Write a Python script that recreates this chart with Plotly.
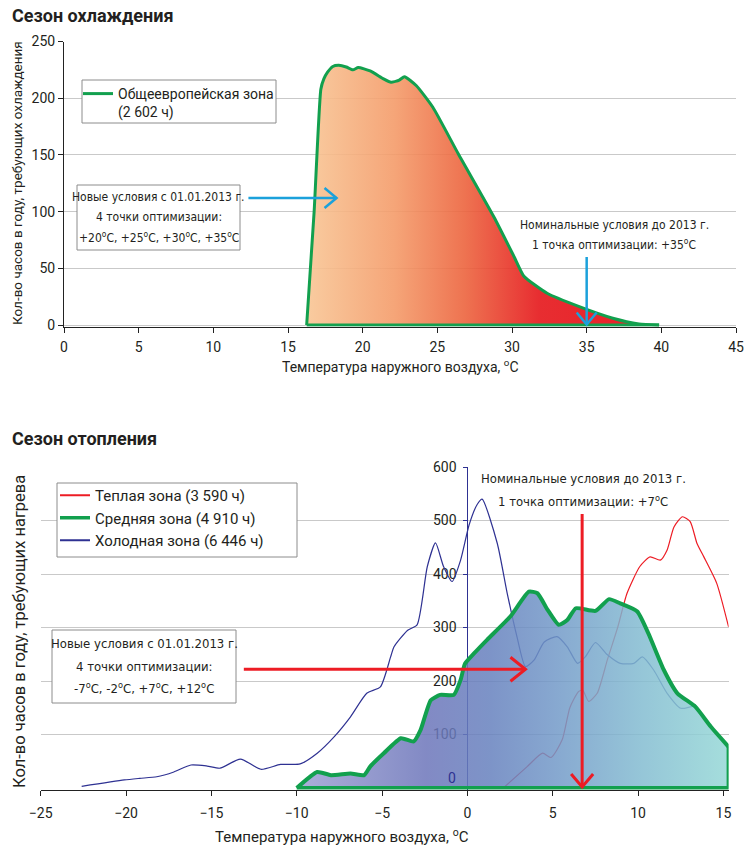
import plotly.graph_objects as go

# ---------------- data ----------------
# Cooling season, pan-European zone (hours per year vs outdoor temperature)
cool_temp = [16.25, 16.75, 17.2, 17.4, 17.65, 18.0, 18.4, 18.9, 19.35, 19.7, 20.5, 21.4, 21.9,
             22.45, 22.8, 23.6, 24.7, 26.4, 28.8, 30.15, 30.8, 32.35, 34.55, 36.75, 38.5, 39.85]
cool_hours = [0, 100, 208, 217, 223, 228, 229, 227.5, 225, 227, 224, 217, 214,
              216, 219, 211, 192, 151, 95, 60, 43, 28, 16, 6, 1, 0]
cool_name = "Общеевропейская зона<br>(2 602 ч)"

# Heating season
warm_temp = [2.1, 3.5, 4.4, 4.9, 5.55, 6.0, 6.5, 6.75, 7.1, 7.6, 8.2, 8.8, 9.35, 10.1,
             10.7, 11.3, 11.7, 12.1, 12.6, 13.05, 13.45, 13.85, 14.6, 15.3]
warm_hours = [0, 40, 65, 57, 90, 150, 180, 183, 162, 177, 240, 300, 364, 414,
              432, 426, 445, 488, 507, 498, 457, 432, 383, 301]
warm_name = "Теплая зона (3 590 ч)"

mid_temp = [-10.0, -8.8, -8.0, -6.85, -6.05, -5.7, -4.9, -3.9, -3.15, -2.75, -2.15, -1.6,
            -0.8, -0.4, -0.15, 0.4, 1.15, 2.5, 3.6, 4.1, 4.7, 5.35, 5.85, 6.35, 7.5, 8.3,
            8.95, 9.95, 10.6, 11.5, 12.3, 13.35, 14.25, 15.3]
mid_hours = [0, 30, 24, 27, 24, 40, 65, 93, 87, 108, 164, 174,
             174, 202, 232, 252, 277, 320, 367, 364, 333, 305, 314, 336, 331, 353,
             345, 330, 289, 221, 177, 152, 115, 77]
mid_name = "Средняя зона (4 910 ч)"

cold_temp = [-22.6, -20.1, -19.2, -18.2, -17.2, -16.2, -15.25, -14.5, -13.3, -12.1, -10.95,
             -9.8, -8.8, -7.8, -6.85, -5.9, -5.1, -4.5, -4.3, -3.5, -2.95, -2.35, -1.87,
             -1.4, -0.9, -0.4, 0.1, 0.57, 0.86, 1.75, 2.33, 2.9, 3.4, 3.9, 4.5, 5.25, 5.85,
             6.45, 6.9, 7.5, 8.2, 8.95, 9.75, 10.25, 10.9, 11.7, 12.5, 13.4]
cold_hours = [3, 15, 18, 21, 30, 43, 41, 37, 54, 35, 44,
              45, 65, 96, 133, 177, 189, 245, 264, 295, 305, 414, 458,
              414, 386, 426, 492, 530, 540, 457, 364, 283, 227, 239, 273, 283, 264,
              233, 245, 272, 249, 233, 233, 245, 221, 177, 149, 155]
cold_name = "Холодная зона (6 446 ч)"

cool_xticks = list(range(0, 50, 5))
cool_yticks = list(range(0, 300, 50))
heat_xticks = list(range(-25, 20, 5))
heat_yticks = list(range(100, 700, 100))

# ---------------- styling / layout helpers ----------------
W, H = 747, 850
FONT = "Roboto, 'Noto Sans', sans-serif"
NARROW = "'Liberation Sans Narrow', 'DejaVu Sans Condensed', Roboto, sans-serif"
TXT = "#231f20"
GREEN = "#12a04e"
BLUE = "#1ba1db"
RED = "#ed1c24"
NAVY = "#2e3192"
GRID = "#c9c9c9"
BOX = "#8c8c8c"


def px(x):
    return x / W


def py(y):
    return 1 - y / H


top_xdom = [px(64), px(736)]
top_ydom = [py(326.7), py(41.5)]
bot_xdom = [px(40.7), px(728.6)]
bot_ydom = [py(789.6), py(467)]
top_xr = [0, 45]
top_yr = [-1.5, 250]
bot_xr = [-25, 15.3]
bot_yr = [-3, 600]
y2_pos = bot_xdom[0] + (0 - bot_xr[0]) / (bot_xr[1] - bot_xr[0]) * (bot_xdom[1] - bot_xdom[0])

fig = go.Figure()

# ---- cooling season ----
fig.add_trace(go.Scatter(
    x=cool_temp, y=cool_hours, mode="lines", fill="tozeroy",
    line=dict(color=GREEN, width=3, shape="spline", smoothing=0.5),
    fillgradient=dict(type="horizontal", colorscale=[
        [0.0, "rgba(248,198,149,0.9)"],
        [0.25, "rgba(244,155,105,0.9)"],
        [0.45, "rgba(236,99,61,0.9)"],
        [0.66, "rgba(229,22,26,0.9)"],
        [1.0, "rgba(230,5,16,0.9)"]]),
    showlegend=False, hoverinfo="skip", xaxis="x", yaxis="y"))
# green base edge of the area
fig.add_trace(go.Scatter(
    x=[cool_temp[0], cool_temp[-1]], y=[0, 0], mode="lines",
    line=dict(color=GREEN, width=3), showlegend=False, hoverinfo="skip",
    xaxis="x", yaxis="y"))
fig.add_trace(go.Scatter(x=[None], y=[None], mode="lines", name=cool_name,
                         line=dict(color=GREEN, width=3), legend="legend",
                         xaxis="x", yaxis="y"))

# ---- heating season ----
fig.add_trace(go.Scatter(
    x=warm_temp, y=warm_hours, mode="lines",
    line=dict(color=RED, width=1.2, shape="spline", smoothing=0.6),
    showlegend=False, hoverinfo="skip", xaxis="x2", yaxis="y2"))
fig.add_trace(go.Scatter(
    x=cold_temp, y=cold_hours, mode="lines",
    line=dict(color=NAVY, width=1.2, shape="spline", smoothing=0.6),
    showlegend=False, hoverinfo="skip", xaxis="x2", yaxis="y2"))
fig.add_trace(go.Scatter(
    x=mid_temp, y=mid_hours, mode="lines", fill="tozeroy",
    line=dict(color=GREEN, width=4, shape="spline", smoothing=0.5),
    fillgradient=dict(type="horizontal", colorscale=[
        [0.0, "rgba(157,161,211,0.85)"],
        [0.3, "rgba(108,117,186,0.85)"],
        [0.45, "rgba(102,129,190,0.85)"],
        [0.6, "rgba(114,153,200,0.85)"],
        [0.8, "rgba(131,188,209,0.85)"],
        [1.0, "rgba(149,216,214,0.85)"]]),
    showlegend=False, hoverinfo="skip", xaxis="x2", yaxis="y2"))
# right edge and base of the area
fig.add_trace(go.Scatter(
    x=[mid_temp[-1], mid_temp[-1], mid_temp[0]], y=[mid_hours[-1], 0, 0], mode="lines",
    line=dict(color=GREEN, width=4), showlegend=False, hoverinfo="skip",
    xaxis="x2", yaxis="y2"))

for nm, col, w in [(warm_name, RED, 2), (mid_name, GREEN, 3.5), (cold_name, NAVY, 2)]:
    fig.add_trace(go.Scatter(x=[None], y=[None], mode="lines", name=nm,
                             line=dict(color=col, width=w), legend="legend2",
                             xaxis="x2", yaxis="y2"))

# ---------------- shapes (boxes, arrows) ----------------
shapes = []


def box(x0, y0, x1, y1):
    shapes.append(dict(type="rect", xref="paper", yref="paper", x0=px(x0), x1=px(x1),
                       y0=py(y1), y1=py(y0), line=dict(color=BOX, width=1),
                       fillcolor="white", layer="above"))


box(82, 80, 276, 123)     # top legend frame
box(77, 185, 240, 250)    # top "new conditions" frame
box(57, 483, 297, 557)    # bottom legend frame
box(52, 630, 236, 703)    # bottom "new conditions" frame


def arrow(xr, yr, x0, y0, x1, y1, head, color, width):
    shapes.append(dict(type="line", xref=xr, yref=yr, x0=x0, y0=y0, x1=x1, y1=y1,
                       line=dict(color=color, width=width)))
    shapes.append(dict(type="path", xref=xr, yref=yr, xsizemode="pixel", ysizemode="pixel",
                       xanchor=x1, yanchor=y1, path=head,
                       line=dict(color=color, width=width)))


arrow("x", "y", 12.35, 112, 18.25, 112, "M -12,10 L 0,0 L -12,-10", BLUE, 2.5)
arrow("x", "y", 35, 60, 35, 0.5, "M -10,12 L 0,0 L 10,12", BLUE, 2.5)
arrow("x2", "y2", -13.1, 222, 3.4, 222, "M -15,12 L 0,0 L -15,-12", RED, 3)
arrow("x2", "y2", 6.72, 512, 6.72, 2, "M -11,13 L 0,0 L 11,13", RED, 3)

# ---------------- annotations ----------------
ann = []


def txt(x, y, text, size, family=FONT, xanchor="center", color=TXT, angle=0):
    ann.append(dict(xref="paper", yref="paper", x=px(x), y=py(y), text=text,
                    showarrow=False, xanchor=xanchor, yanchor="middle",
                    textangle=angle, font=dict(family=family, size=size, color=color)))


txt(10, 15, "<b>Сезон охлаждения</b>", 18, xanchor="left")
txt(10, 438, "<b>Сезон отопления</b>", 18, xanchor="left")

txt(17, 183, "Кол-во часов в году, требующих охлаждения", 13.5, angle=-90)
txt(400, 366, "Температура наружного воздуха, <sup>o</sup>C", 14)
txt(19, 632, "Кол-во часов в году, требующих нагрева", 16.5, angle=-90)
txt(342, 836, "Температура наружного воздуха, <sup>o</sup>C", 15)

# top box
txt(158.5, 197, "Новые условия с 01.01.2013 г.", 12, NARROW)
txt(158.5, 217, "4 точки оптимизации:", 12, NARROW)
txt(158.5, 237, "+20<sup>o</sup>C, +25<sup>o</sup>C, +30<sup>o</sup>C, +35<sup>o</sup>C", 12, NARROW)
txt(614, 225, "Номинальные условия до 2013 г.", 12, NARROW)
txt(614, 244, "1 точка оптимизации: +35<sup>o</sup>C", 12, NARROW)

# bottom box
txt(144, 643, "Новые условия с 01.01.2013 г.", 13, NARROW)
txt(144, 666, "4 точки оптимизации:", 13, NARROW)
txt(144, 688, "-7<sup>o</sup>C, -2<sup>o</sup>C, +7<sup>o</sup>C, +12<sup>o</sup>C", 13, NARROW)
txt(583, 478, "Номинальные условия до 2013 г.", 13, NARROW)
txt(583, 501, "1 точка оптимизации: +7<sup>o</sup>C", 13, NARROW)

# "0" label of the heating y axis sits slightly above the x axis
ann.append(dict(xref="x2", yref="y2", x=0, y=0, text="0", showarrow=False,
                xanchor="right", yanchor="middle", xshift=-9, yshift=10,
                font=dict(family=FONT, size=14, color=NAVY)))

axis_font = dict(family=FONT, size=14, color=TXT)

fig.update_layout(
    width=W, height=H, margin=dict(l=0, r=0, t=0, b=0, pad=0, autoexpand=False),
    paper_bgcolor="white", plot_bgcolor="white",
    font=dict(family=FONT, color=TXT),
    xaxis=dict(domain=top_xdom, range=top_xr, anchor="y", tickvals=cool_xticks,
               showline=True, linecolor="#222", linewidth=1, ticks="outside",
               ticklen=5, tickcolor="#222", showgrid=False, zeroline=False,
               tickfont=axis_font, layer="below traces", ticklabelstandoff=2,
               automargin=False),
    yaxis=dict(domain=top_ydom, range=top_yr, anchor="x", tickvals=cool_yticks,
               showline=True, linecolor="#222", linewidth=1, ticks="outside",
               ticklen=5, tickcolor="#222", showgrid=True, gridcolor=GRID,
               gridwidth=1, zeroline=False, tickfont=axis_font, layer="below traces",
               automargin=False),
    xaxis2=dict(domain=bot_xdom, range=bot_xr, anchor="y2", tickvals=heat_xticks,
                showline=True, linecolor="#222", linewidth=1, ticks="outside",
                ticklen=5, tickcolor="#222", showgrid=False, zeroline=False,
                tickfont=axis_font, layer="below traces", ticklabelstandoff=6,
                automargin=False),
    yaxis2=dict(domain=bot_ydom, range=bot_yr, anchor="free", position=y2_pos,
                tickvals=heat_yticks, showline=True, linecolor=NAVY, linewidth=1.2,
                ticks="outside", ticklen=4, tickcolor=NAVY, showgrid=True,
                gridcolor=GRID, gridwidth=1, zeroline=False, tickfont=axis_font,
                layer="below traces", ticklabelstandoff=4, automargin=False),
    legend=dict(x=px(78), y=py(78), xanchor="left", yanchor="top",
                bgcolor="rgba(0,0,0,0)", borderwidth=0, valign="top",
                font=dict(family=FONT, size=14, color=TXT)),
    legend2=dict(x=px(55), y=py(479), xanchor="left", yanchor="top",
                 bgcolor="rgba(0,0,0,0)", borderwidth=0, tracegroupgap=0,
                 font=dict(family=FONT, size=15, color=TXT)),
    shapes=shapes, annotations=ann,
)

fig.write_html("out.html", config={"displayModeBar": False},
               post_script="document.body.style.margin='0px';")
